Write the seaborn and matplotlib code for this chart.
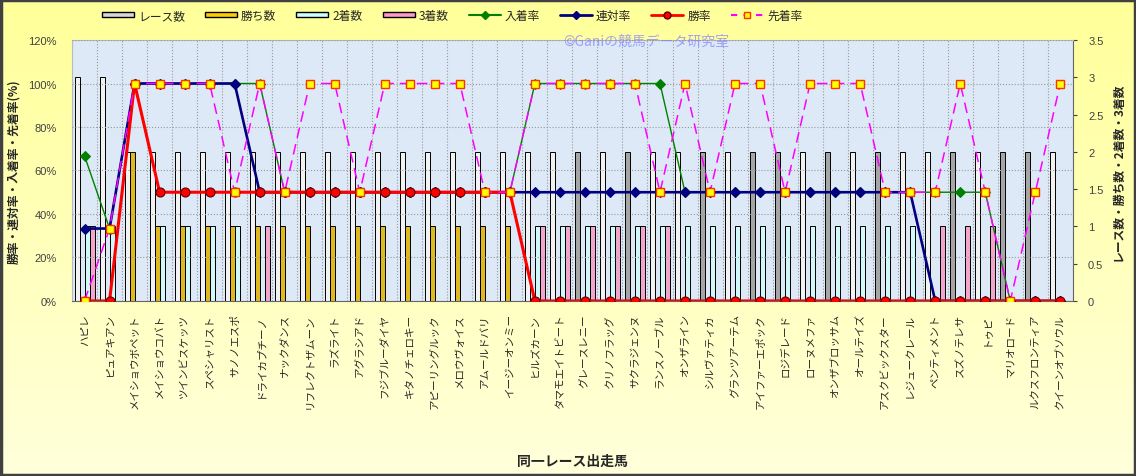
"""
同一レース出走馬の成績チャート (bars: counts, lines: rates).
"""

import numpy as np
import pandas as pd
import matplotlib
matplotlib.use("Agg")
import matplotlib.pyplot as plt
from matplotlib.patches import Patch
from matplotlib.lines import Line2D
import seaborn as sns

# ---- data -------------------------------------------------------------
horses = [
    "ハピレ", "ピュアキアン", "メイショウボペット", "メイショウコバト", "ツインビスケッツ",
    "スペシャリスト", "サノノエスポ", "ドライカプチーノ", "ナックダンス", "リフレクトザムーン",
    "ラズライト", "アグラシアド", "フジブルーダイヤ", "キタノチェロキー", "アピーリングルック",
    "メロウヴォイス", "アムールドバリ", "イージーオンミー", "ヒルズカーン", "タマモエイトビート",
    "グレースレニー", "クリノフラッグ", "サクラジェンヌ", "ランスノーブル", "オンザライン",
    "シルヴァティカ", "グランツアーテム", "アイファーエポック", "ロジデレード", "ローヌメファ",
    "オンザブロッサム", "オールテイズ", "アスクビックスター", "レジュークレール", "ペンティメント",
    "スズノテレサ", "トゥピ", "マリオロード", "ルクスフロンティア", "クイーンオブソウル",
]

races = [3, 3, 2, 2, 2, 2, 2, 2, 2, 2,
         2, 2, 2, 2, 2, 2, 2, 2, 2, 2,
         2, 2, 2, 2, 2, 2, 2, 2, 2, 2,
         2, 2, 2, 2, 2, 2, 2, 2, 2, 2]
wins = [0, 0, 2, 1, 1, 1, 1, 1, 1, 1,
        1, 1, 1, 1, 1, 1, 1, 1, 0, 0,
        0, 0, 0, 0, 0, 0, 0, 0, 0, 0,
        0, 0, 0, 0, 0, 0, 0, 0, 0, 0]
seconds = [1, 1, 0, 1, 1, 1, 1, 0, 0, 0,
           0, 0, 0, 0, 0, 0, 0, 0, 1, 1,
           1, 1, 1, 1, 1, 1, 1, 1, 1, 1,
           1, 1, 1, 1, 0, 0, 0, 0, 0, 0]
thirds = [1, 0, 0, 0, 0, 0, 0, 1, 0, 0,
          0, 0, 0, 0, 0, 0, 0, 0, 1, 1,
          1, 1, 1, 1, 0, 0, 0, 0, 0, 0,
          0, 0, 0, 0, 1, 1, 1, 0, 0, 0]

place_rate = [66.7, 33.3, 100, 100, 100, 100, 100, 100, 50, 50,
              50, 50, 50, 50, 50, 50, 50, 50, 100, 100,
              100, 100, 100, 100, 50, 50, 50, 50, 50, 50,
              50, 50, 50, 50, 50, 50, 50, 0, 0, 0]
quinella_rate = [33.3, 33.3, 100, 100, 100, 100, 100, 50, 50, 50,
                 50, 50, 50, 50, 50, 50, 50, 50, 50, 50,
                 50, 50, 50, 50, 50, 50, 50, 50, 50, 50,
                 50, 50, 50, 50, 0, 0, 0, 0, 0, 0]
win_rate = [0, 0, 100, 50, 50, 50, 50, 50, 50, 50,
            50, 50, 50, 50, 50, 50, 50, 50, 0, 0,
            0, 0, 0, 0, 0, 0, 0, 0, 0, 0,
            0, 0, 0, 0, 0, 0, 0, 0, 0, 0]
ahead_rate = [0, 33.3, 100, 100, 100, 100, 50, 100, 50, 100,
              100, 50, 100, 100, 100, 100, 50, 50, 100, 100,
              100, 100, 100, 50, 100, 50, 100, 100, 50, 100,
              100, 100, 50, 50, 50, 100, 50, 0, 50, 100]

bar_names = ["レース数", "勝ち数", "2着数", "3着数"]

# ---- style ------------------------------------------------------------
bar_colors = ["#f2f2f2", "#ffcc00", "#ccffff", "#ff99cc"]
dark_race = [20, 22, 25, 27, 28, 30, 32, 35, 37, 38]  # race bars drawn darker gray
num_font = ["Liberation Sans", "DejaVu Sans"]

sns.set_style("white")
plt.rcParams["font.family"] = ["Noto Sans CJK JP", "DejaVu Sans"]

df = pd.DataFrame({"horse": horses, bar_names[0]: races, bar_names[1]: wins,
                   bar_names[2]: seconds, bar_names[3]: thirds})
df_long = df.melt(id_vars="horse", var_name="metric", value_name="count")
n = len(horses)

fig = plt.figure(figsize=(11.36, 4.77), dpi=100)

# yellow gradient background + dark frame
bg = fig.add_axes([0, 0, 1, 1], zorder=-10)
grad = np.linspace(0, 1, 256).reshape(-1, 1)
top = np.array([1.0, 1.0, 0.60])
bot = np.array([1.0, 1.0, 0.86])
img = top + (bot - top) * grad
bg.imshow(img[:, None, :].repeat(2, axis=1), aspect="auto", extent=[0, 1, 0, 1])
bg.set_axis_off()
fig.patches.append(plt.Rectangle((0.001, 0.002), 0.998, 0.996, transform=fig.transFigure,
                                 fill=False, edgecolor="#404040", linewidth=2.5))

# bars (counts) on the main axes, scale shown on the right
ax = fig.add_axes([0.0634, 0.367, 0.881, 0.547])
ax.set_facecolor("#dde9f7")
sns.barplot(data=df_long, x="horse", y="count", hue="metric", hue_order=bar_names,
            palette=bar_colors, width=0.8, edgecolor="black", linewidth=0.7,
            ax=ax, legend=False, zorder=2)
for i in dark_race:
    ax.patches[i].set_facecolor("#a6a6a6")

# lines (rates) on a twin axes, scale shown on the left
ax2 = ax.twinx()

ax.yaxis.tick_right()
ax.yaxis.set_label_position("right")
ax2.yaxis.tick_left()
ax2.yaxis.set_label_position("left")

ax.set_xlim(-0.5, n - 0.5)
ax.set_ylim(0, 3.5)
ax.set_yticks(np.arange(0, 3.51, 0.5))
ax.set_yticklabels(["0", "0.5", "1", "1.5", "2", "2.5", "3", "3.5"], family=num_font)
ax.set_xlabel("同一レース出走馬", fontsize=10, fontweight="bold", labelpad=33)
ax.set_ylabel("レース数・勝ち数・2着数・3着数", fontsize=8.5, fontweight="bold", labelpad=6)
ax.set_xticks(range(n))
ax.set_xticklabels(horses, rotation=90, fontsize=7.6)
ax.tick_params(axis="x", length=0, pad=9)
ax.tick_params(axis="y", colors="#404040", labelsize=8, length=3, direction="out", pad=8)
ax.set_xticks(np.arange(-0.5, n, 1), minor=True)
ax.tick_params(axis="x", which="minor", length=0)
ax.grid(which="minor", axis="x", color="#999999", linestyle=":", linewidth=0.8)
for s in ["top", "left"]:
    ax.spines[s].set_color("#bbbbbb")
ax.spines["bottom"].set_color("#666666")
ax.spines["right"].set_color("#666666")

ax2.set_ylim(0, 120)
ax2.set_yticks(range(0, 121, 20))
ax2.set_yticklabels([f"{v}%" for v in range(0, 121, 20)], family=num_font)
ax2.tick_params(axis="y", colors="#404040", labelsize=8, length=0, pad=11)
ax2.grid(axis="y", color="#999999", linestyle=":", linewidth=0.8)
ax2.set_ylabel("勝率・連対率・入着率・先着率(%)", fontsize=8.5, fontweight="bold", labelpad=6)
for s in ax2.spines.values():
    s.set_visible(False)

xs = np.arange(n)
sns.lineplot(x=xs, y=place_rate, ax=ax2, color="#008000", linewidth=1.0,
             marker="D", markersize=5, markeredgecolor="#008000", zorder=3)
sns.lineplot(x=xs, y=quinella_rate, ax=ax2, color="#000080", linewidth=1.9,
             marker="D", markersize=5, markeredgecolor="#000080", zorder=4)
sns.lineplot(x=xs, y=win_rate, ax=ax2, color="#ff0000", linewidth=2.2,
             marker="o", markersize=6.5, markerfacecolor="#ff0000",
             markeredgecolor="#600000", markeredgewidth=0.8, zorder=5)
sns.lineplot(x=xs, y=ahead_rate, ax=ax2, color="#ff00ff", linewidth=1.1, linestyle=(0, (7, 4)),
             marker="s", markersize=6, markerfacecolor="#ffff00",
             markeredgecolor="#ff3300", markeredgewidth=1.0, zorder=6)
ax2.set_xlim(-0.5, n - 0.5)
ax2.set_ylim(0, 120)

# watermark
fig.text(0.569, 0.912, "©Ganiの競馬データ研究室", fontsize=10, color="#8080ff",
         alpha=0.7, ha="center", va="center")

handles = [
    Patch(facecolor="#d8d8d8", edgecolor="black", label="レース数"),
    Patch(facecolor=bar_colors[1], edgecolor="black", label="勝ち数"),
    Patch(facecolor=bar_colors[2], edgecolor="black", label="2着数"),
    Patch(facecolor=bar_colors[3], edgecolor="black", label="3着数"),
    Line2D([], [], color="#008000", marker="D", markersize=4, label="入着率"),
    Line2D([], [], color="#000080", marker="D", markersize=4, linewidth=2, label="連対率"),
    Line2D([], [], color="#ff0000", marker="o", markersize=5, markeredgecolor="#600000",
           linewidth=2, label="勝率"),
    Line2D([], [], color="#ff00ff", marker="s", markersize=5, markerfacecolor="#ffff00",
           markeredgecolor="#ff3300", linestyle=(0, (3, 3)), label="先着率"),
]
fig.legend(handles=handles, loc="center", bbox_to_anchor=(0.398, 0.966), ncol=8,
           frameon=False, fontsize=8.5, handlelength=2.7, handleheight=0.4,
           columnspacing=1.7, handletextpad=0.35)

fig.savefig("out.png", dpi=100)
